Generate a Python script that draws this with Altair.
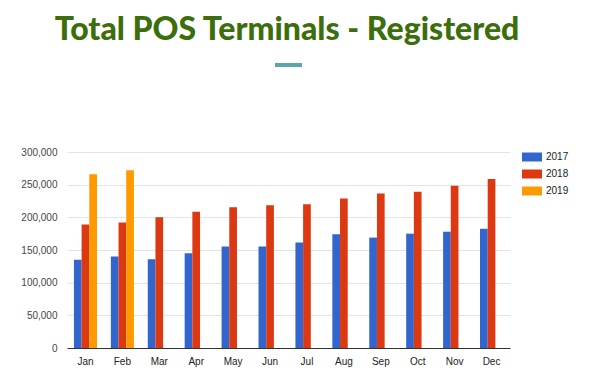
import altair as alt
import pandas as pd

title_text = "Total POS Terminals - Registered"
months = ["Jan", "Feb", "Mar", "Apr", "May", "Jun", "Jul", "Aug", "Sep", "Oct", "Nov", "Dec"]
years = ["2017", "2018", "2019"]
colors = ["#3366cc", "#dc3912", "#ff9900"]

v2017 = [135000, 140000, 136000, 145000, 155500, 155500, 161500, 174000, 169000, 175000, 178000, 182500]
v2018 = [189000, 192000, 200000, 208500, 215500, 218500, 220000, 229000, 236500, 239000, 248500, 258500]
v2019 = [266000, 272000]

rows = []
for yr, vals in zip(years, [v2017, v2018, v2019]):
    for m, v in zip(months, vals):
        rows.append({"month": m, "year": yr, "value": v})
df = pd.DataFrame(rows)

bars = alt.Chart(df).mark_bar().encode(
    x=alt.X("month:N", sort=months, title=None,
            scale=alt.Scale(paddingInner=0.375, paddingOuter=0.1875),
            axis=alt.Axis(labelAngle=0, ticks=False, domain=True, domainColor="#333333",
                          labelFont="Liberation Sans", labelFontSize=10, labelColor="#222222",
                          labelPadding=8, grid=False)),
    xOffset=alt.XOffset("year:N", sort=years),
    y=alt.Y("value:Q", title=None,
            scale=alt.Scale(domain=[0, 300000]),
            axis=alt.Axis(values=[0, 50000, 100000, 150000, 200000, 250000, 300000], format=",d",
                          ticks=False, domain=False, gridColor="#e3e3e3",
                          labelFont="Liberation Sans", labelFontSize=10, labelColor="#444444",
                          labelPadding=10)),
    color=alt.Color("year:N", sort=years, scale=alt.Scale(domain=years, range=colors),
                    legend=alt.Legend(title=None, orient="none", legendX=455, legendY=-5,
                                      symbolType="M-1,-0.45H1V0.45H-1Z", symbolSize=400,
                                      symbolStrokeWidth=0, symbolOpacity=1,
                                      labelFont="Liberation Sans", labelFontSize=10,
                                      labelColor="#222222", labelOffset=4, rowPadding=2)),
)

title = alt.Chart(pd.DataFrame({"t": [title_text]})).mark_text(
    font="Lato", fontSize=32, fontWeight=900, color="#3c6e0b", align="center", baseline="alphabetic"
).encode(x=alt.value(220), y=alt.value(-112), text="t:N")

underline = alt.Chart(pd.DataFrame({"t": [title_text]})).mark_rule(
    color="#5aa6ac", strokeWidth=4
).encode(x=alt.value(208), x2=alt.value(235), y=alt.value(-87))

chart = alt.layer(bars, title, underline).properties(
    width=443, height=196,
    autosize=alt.AutoSizeParams(type="none"),
    padding={"left": 59, "top": 144, "right": 75, "bottom": 36},
).configure_view(stroke=None)

chart.save("out.html", embed_options={"renderer": "svg", "actions": False})
